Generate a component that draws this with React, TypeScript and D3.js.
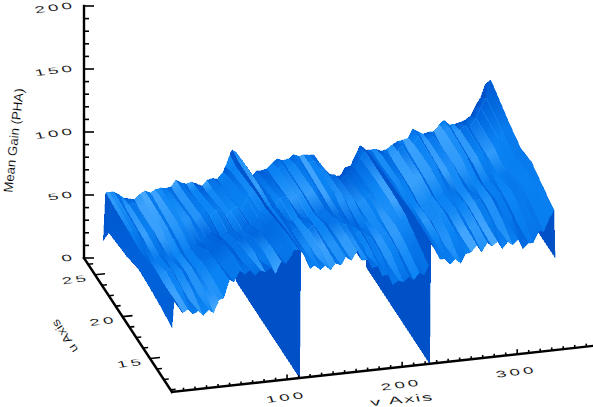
import React from 'react'
import * as d3 from 'd3'

// u / v sampling of the surface
const uRows = [23.5, 22.5, 19.2, 17.1, 15.1, 13, 11]
const vGrid = [0,2,5,9,14,18,23,27,32,36,41,45,50,54,59,63,68,72,77,81,86,90,95,99,104,106,110,111,112,115,120,124,129,133,138,142,147,151,156,161,165,170,174,179,183,188,192,197,201,206,210,215,219,223,224,225,228,233,237,242,246,251,255,260,265,269,274,278,283,287,292,296,301,305,310,314,319,323,328,332,333]

// mean gain per row, back (high u) to front (low u)
const gainU235 = [37,75,75,75,72,69,68,67,71,73,71,73,74,73,74,79,76,75,76,74,72,76,77,76,81,85,94,96,98,96,89,80,75,79,79,80,84,87,85,86,89,87,88,87,87,80,75,70,68,68,74,75,83,90,90,89,86,86,86,84,85,88,90,91,92,99,96,94,95,95,100,103,99,99,100,101,104,111,118,128,73]
const gainU225 = [50,74,75,75,69,70,71,65,70,73,70,74,73,76,73,79,78,74,77,78,72,76,80,75,84,88,92,0,96,97,90,84,77,81,82,80,86,89,84,89,90,86,88,89,82,81,75,76,71,75,78,78,87,92,0,92,89,85,88,87,84,90,93,89,94,100,94,95,98,93,101,104,98,101,104,102,109,117,124,138,73]
const gainU192 = [53,72,72,72,66,69,71,64,68,71,67,74,73,79,75,81,83,77,82,83,76,80,84,79,89,92,95,0,96,98,91,89,81,86,87,82,88,90,84,91,91,84,86,87,77,82,74,79,73,79,82,80,88,92,0,94,91,87,89,88,83,89,93,87,95,98,91,95,99,92,100,102,96,101,103,100,108,114,117,126,73]
const gainU171 = [57,70,67,64,63,66,63,63,63,67,63,69,72,73,76,80,78,75,79,81,75,80,84,80,87,92,95,0,96,96,90,86,83,83,85,84,84,88,83,90,86,83,84,80,76,75,72,73,74,78,77,80,88,92,0,95,88,85,84,85,80,86,90,84,91,91,91,90,94,92,93,97,92,97,96,98,103,106,112,120,73]
const gainU151 = [56,72,69,63,67,69,62,68,64,69,65,72,81,76,86,87,82,80,85,88,81,87,91,86,92,96,98,0,98,98,93,88,90,84,88,91,85,92,89,95,87,89,88,79,82,76,77,72,77,79,75,82,87,90,0,97,90,87,84,87,82,88,92,87,93,91,96,91,95,97,92,99,95,100,94,102,106,105,116,122,73]
const gainU130 = [54,72,68,61,65,67,59,65,61,67,65,72,83,79,89,89,84,81,86,90,82,88,94,89,95,100,101,0,100,98,92,88,90,83,87,90,85,92,89,96,87,88,87,77,80,73,75,69,75,77,72,78,81,84,0,97,90,87,83,85,79,85,89,85,91,88,94,89,92,94,88,95,91,95,89,97,101,100,111,116,73]
const gainU110 = [51,73,69,62,64,60,62,58,62,59,69,70,84,82,91,87,90,85,89,87,90,85,94,92,98,102,102,0,100,97,86,88,84,87,83,88,86,92,89,96,88,88,81,82,74,74,66,69,67,71,68,73,71,78,0,96,91,82,82,77,81,77,84,85,90,84,91,88,91,85,90,87,91,83,87,87,96,95,105,111,73]
const gainRows = [gainU235, gainU225, gainU192, gainU171, gainU151, gainU130, gainU110]

const zTicks = [0, 50, 100, 150, 200]
const uTicks = [15, 20, 25]
const vTicks = [100, 200, 300]
const zMinor = [10,20,30,40,60,70,80,90,110,120,130,140,160,170,180,190]
const uMinor = [11.25,12.5,13.75,16.25,17.5,18.75,21.25,22.5,23.75,26.25]
const vMinor = [10,20,30,40,50,60,70,80,90,110,120,130,140,150,160,170,180,190,210,220,230,240,250,260,270,280,290,310,320,330,340,350,360]

const ox = 172
const oy = 392
const uX = d3.scaleLinear().domain([11, 27]).range([0, -88])
const uY = d3.scaleLinear().domain([11, 27]).range([0, -134])
const vX = d3.scaleLinear().domain([0, 365]).range([0, 420])
const vY = d3.scaleLinear().domain([0, 365]).range([0, -46])
const zY = d3.scaleLinear().domain([0, 200]).range([0, -252])

const px = (u: number, v: number) => ox + uX(u) + vX(v)
const py = (u: number, v: number, z: number) => oy + uY(u) + vY(v) + zY(z)

const shade = d3.scaleLinear<string>()
  .domain([0.3, 0.62, 0.88, 1.0])
  .range(['#0050c8', '#0064dc', '#0a84f4', '#4aaaff'])
  .clamp(true)

// lambert-ish shading with the light near the viewer's side
const cellShade = (r: number, c: number) => {
  const dv = vGrid[c + 1] - vGrid[c]
  const du = uRows[r] - uRows[r + 1]
  const sv = ((gainRows[r][c + 1] - gainRows[r][c]) + (gainRows[r + 1][c + 1] - gainRows[r + 1][c])) / (2 * dv)
  const su = ((gainRows[r][c] - gainRows[r + 1][c]) + (gainRows[r][c + 1] - gainRows[r + 1][c + 1])) / (2 * du)
  const nv = -sv * 0.45
  const nu = -su * 0.4
  const len = Math.hypot(nv, nu, 1)
  return (nv * -0.35 + nu * -0.2 + 0.91) / len
}

const Label = ({ x, y, m, anchor = 'middle', spacing = 0, children }: any) => (
  <text
    transform={`matrix(${m.join(' ')} ${x} ${y})`}
    textAnchor={anchor}
    fontFamily="'Liberation Sans', sans-serif"
    fontSize={12}
    letterSpacing={spacing}
    fill="#000"
    stroke="#fff"
    strokeWidth={0.12}
  >
    {children}
  </text>
)

const tickMatrix = [1.55, -0.2, 0.25, 0.75]

export default function App() {
  const defs: React.ReactNode[] = []
  const quads: React.ReactNode[] = []
  const nr = uRows.length - 1
  for (let r = 0; r < nr; r++) {
    for (let c = vGrid.length - 2; c >= 0; c--) {
      const pts = [
        [r, c], [r, c + 1], [r + 1, c + 1], [r + 1, c],
      ].map(([i, j]) => `${px(uRows[i], vGrid[j])},${py(uRows[i], vGrid[j], gainRows[i][j])}`)
      // smooth the shade along u, so the stripes don't look blocky
      const s = cellShade(r, c)
      const top = r > 0 ? (s + cellShade(r - 1, c)) / 2 : s
      const bot = r < nr - 1 ? (s + cellShade(r + 1, c)) / 2 : s
      const vm = (vGrid[c] + vGrid[c + 1]) / 2
      const zTop = (gainRows[r][c] + gainRows[r][c + 1]) / 2
      const zBot = (gainRows[r + 1][c] + gainRows[r + 1][c + 1]) / 2
      const id = `g${r}-${c}`
      defs.push(
        <linearGradient key={id} id={id} gradientUnits="userSpaceOnUse"
          x1={px(uRows[r], vm)} y1={py(uRows[r], vm, zTop)}
          x2={px(uRows[r + 1], vm)} y2={py(uRows[r + 1], vm, zBot)}>
          <stop offset="0" stopColor={shade(top)} />
          <stop offset="1" stopColor={shade(bot)} />
        </linearGradient>
      )
      quads.push(<polygon key={id} points={pts.join(' ')} fill={`url(#${id})`} stroke={shade(s)} strokeWidth={0.3} />)
    }
  }

  const axis = { stroke: '#000', strokeWidth: 2.4, fill: 'none' }
  const tick = { stroke: '#000', strokeWidth: 1.6 }

  return (
    <svg width={593} height={407} style={{ position: 'absolute', left: 0, top: 0, background: '#fff' }}>
      <defs>{defs}</defs>
      <g shapeRendering="crispEdges">{quads}</g>

      <g strokeLinecap="square">
        <line x1={84} y1={py(27, 0, 200)} x2={84} y2={py(27, 0, 0)} {...axis} />
        <line x1={px(27, 0)} y1={py(27, 0, 0)} x2={ox} y2={oy} {...axis} />
        <line x1={ox} y1={oy} x2={px(11, 365)} y2={py(11, 365, 0)} {...axis} />
      </g>

      {zTicks.map(t => <line key={t} x1={84} x2={94} y1={py(27, 0, t)} y2={py(27, 0, t)} {...tick} />)}
      {zMinor.map(t => <line key={t} x1={84} x2={89} y1={py(27, 0, t)} y2={py(27, 0, t)} {...tick} />)}
      {uTicks.map(t => <line key={t} x1={px(t, 0)} x2={px(t, 0) + 10} y1={py(t, 0, 0)} y2={py(t, 0, 0) - 1} {...tick} />)}
      {uMinor.map(t => <line key={t} x1={px(t, 0)} x2={px(t, 0) + 5} y1={py(t, 0, 0)} y2={py(t, 0, 0) - 0.5} {...tick} />)}
      {vTicks.map(t => <line key={t} x1={px(11, t)} x2={px(11, t)} y1={py(11, t, 0)} y2={py(11, t, 0) - 5} {...tick} />)}
      {vMinor.map(t => <line key={t} x1={px(11, t)} x2={px(11, t)} y1={py(11, t, 0)} y2={py(11, t, 0) - 3} {...tick} />)}

      {zTicks.map(t => (
        <Label key={t} x={76} y={py(27, 0, t) + 2} m={tickMatrix} anchor="end" spacing={2}>{t}</Label>
      ))}
      {uTicks.map(t => (
        <Label key={t} x={px(t, 0) - 5} y={py(t, 0, 0) + 6} m={tickMatrix} anchor="end" spacing={2}>{t}</Label>
      ))}
      {vTicks.map(t => (
        <Label key={t} x={px(11, t)} y={py(11, t, 0) + 21} m={tickMatrix} spacing={2}>{t}</Label>
      ))}

      <Label x={403} y={403} m={[1.7, -0.16, 0.25, 0.85]} spacing={1}>v Axis</Label>
      <Label x={68} y={334} m={[-0.66, -0.98, 0.8, -0.52]}>u Axis</Label>
      <Label x={18} y={141} m={[0.12, -1.1, 1.05, 0.12]}>Mean Gain (PHA)</Label>
    </svg>
  )
}
